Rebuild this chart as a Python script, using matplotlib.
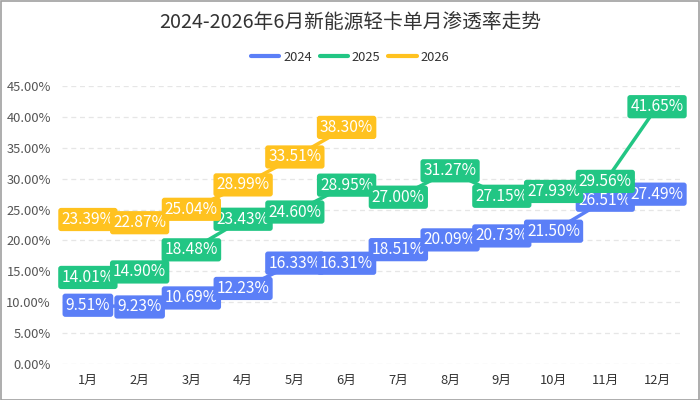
import matplotlib
matplotlib.use('Agg')

import matplotlib.pyplot as plt
from matplotlib.lines import Line2D
from matplotlib.ticker import FuncFormatter

plt.rcParams['font.family'] = ['Noto Sans CJK SC', 'DejaVu Sans']

months = ["1月", "2月", "3月", "4月", "5月", "6月", "7月", "8月", "9月", "10月", "11月", "12月"]
y2024 = [9.51, 9.23, 10.69, 12.23, 16.33, 16.31, 18.51, 20.09, 20.73, 21.50, 26.51, 27.49]
y2025 = [14.01, 14.90, 18.48, 23.43, 24.60, 28.95, 27.00, 31.27, 27.15, 27.93, 29.56, 41.65]
y2026 = [23.39, 22.87, 25.04, 28.99, 33.51, 38.30]
series_names = ["2024", "2025", "2026"]
colors = ["#5B7FF7", "#22C684", "#FFC21F"]

fig = plt.figure(figsize=(7, 4), dpi=100)
ax = fig.add_axes([0.0886, 0.09, 0.887, 0.695])

x = list(range(len(months)))
all_series = [y2024, y2025, y2026]

for vals, c in zip(all_series, colors):
    ax.plot(x[:len(vals)], vals, color=c, lw=2.5, solid_capstyle='round', zorder=2)

# value tags, later points sit on top of earlier ones
z = 3
for vals, c in zip(all_series, colors):
    for i, v in enumerate(vals):
        ax.text(x[i], v, "%.2f%%" % v, color='white', fontsize=11.2,
                ha='center', va='center', zorder=z,
                bbox=dict(boxstyle='round,pad=0.2,rounding_size=0.18',
                          fc=c, ec='none'))
        z += 0.01

ax.set_xlim(-0.5, 11.5)
ax.set_ylim(0, 45)
ax.set_yticks(range(0, 46, 5))
ax.yaxis.set_major_formatter(FuncFormatter(lambda v, p: "%.2f%%" % v))
ax.set_xticks(x)
ax.set_xticklabels(months)
ax.tick_params(axis='y', length=0, labelsize=9.3, labelcolor='#555555', pad=8)
ax.tick_params(axis='x', length=0, labelsize=9.3, labelcolor='#333333', pad=7)
ax.grid(axis='y', color='#E6E6E6', linestyle=(0, (4, 3)), lw=0.9)
ax.set_axisbelow(True)
for s in ax.spines.values():
    s.set_visible(False)

fig.text(0.5, 0.945, "2024-2026年6月新能源轻卡单月渗透率走势", ha='center', va='center',
         fontsize=14.2, color='#333333')

handles = [Line2D([0], [0], color=c, lw=3, solid_capstyle='round') for c in colors]
fig.legend(handles, series_names, loc='center', bbox_to_anchor=(0.5, 0.857), ncol=3,
           frameon=False, fontsize=9.3, handlelength=2.2, handletextpad=0.3,
           columnspacing=0.6, labelcolor='#333333')

border = plt.Rectangle((0.001, 0.001), 0.997, 0.997, transform=fig.transFigure,
                       fill=False, ec='#A0A0A0', lw=1.2)
fig.patches.append(border)

fig.savefig("out.png", dpi=100)
